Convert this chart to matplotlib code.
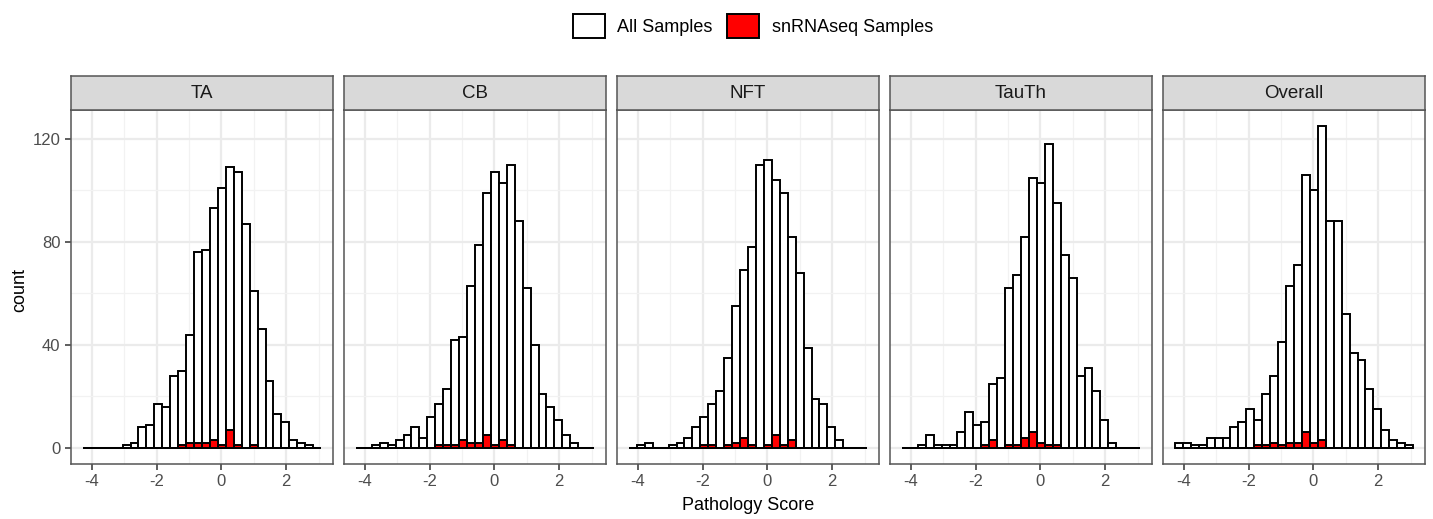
import numpy as np
import matplotlib
matplotlib.use("Agg")
import matplotlib.pyplot as plt
from matplotlib.patches import Patch

plt.rcParams['font.family'] = ['Liberation Sans', 'DejaVu Sans']
plt.rcParams['axes.unicode_minus'] = False

# histogram bins (30 bins shared by all panels)
x_min, x_max = -4.28, 3.08
n_bins = 30

panels = ["TA", "CB", "NFT", "TauTh", "Overall"]

ta_all = [0, 0, 0, 0, 0, 1, 2, 8, 9, 17, 16, 28, 30, 44, 76, 77, 93, 101, 109, 107,
          87, 61, 46, 26, 13, 10, 3, 2, 1, 0]
ta_sn = [0, 0, 0, 0, 0, 0, 0, 0, 0, 0, 0, 0, 1, 2, 2, 2, 3, 1, 7, 1,
         0, 1, 0, 0, 0, 0, 0, 0, 0, 0]

cb_all = [0, 0, 1, 2, 1, 3, 5, 8, 4, 12, 17, 23, 42, 43, 63, 79, 99, 107, 103, 110,
          88, 62, 40, 21, 16, 11, 5, 2, 0, 0]
cb_sn = [0, 0, 0, 0, 0, 0, 0, 0, 0, 0, 1, 1, 1, 3, 2, 2, 5, 1, 3, 1,
         0, 0, 0, 0, 0, 0, 0, 0, 0, 0]

nft_all = [0, 1, 2, 0, 0, 1, 2, 4, 8, 12, 17, 22, 35, 55, 69, 78, 110, 112, 104, 99,
           82, 68, 39, 19, 17, 8, 3, 0, 0, 0]
nft_sn = [0, 0, 0, 0, 0, 0, 0, 0, 0, 1, 1, 0, 1, 2, 4, 1, 0, 1, 5, 1,
          3, 0, 0, 0, 0, 0, 0, 0, 0, 0]

tauth_all = [0, 0, 1, 5, 1, 1, 1, 6, 14, 9, 10, 25, 27, 62, 67, 82, 105, 103, 118, 95,
             75, 66, 28, 31, 22, 11, 2, 0, 0, 0]
tauth_sn = [0, 0, 0, 0, 0, 0, 0, 0, 0, 0, 1, 3, 0, 1, 1, 4, 6, 2, 1, 1,
            0, 0, 0, 0, 0, 0, 0, 0, 0, 0]

overall_all = [2, 2, 1, 1, 4, 4, 4, 8, 10, 15, 11, 21, 28, 41, 63, 71, 106, 100, 125, 88,
               88, 52, 37, 34, 23, 15, 7, 3, 2, 1]
overall_sn = [0, 0, 0, 0, 0, 0, 0, 0, 0, 0, 1, 1, 2, 1, 2, 2, 6, 2, 3, 0,
              0, 0, 0, 0, 0, 0, 0, 0, 0, 0]

all_counts = [ta_all, cb_all, nft_all, tauth_all, overall_all]
sn_counts = [ta_sn, cb_sn, nft_sn, tauth_sn, overall_sn]

edges = np.linspace(x_min, x_max, n_bins + 1)
centers = (edges[:-1] + edges[1:]) / 2
bw = edges[1] - edges[0]

W, H = 1433, 519
fig = plt.figure(figsize=(W / 100, H / 100), dpi=100)

pad = (x_max - x_min) * 0.05
ymax = max(max(c) for c in all_counts)
ylim = (-ymax * 0.05, ymax * 1.05)

lefts = [71, 344, 617, 890, 1163]
pw = 262
p_top, p_bot = 110, 464
s_top = 76

for i, name in enumerate(panels):
    ax = fig.add_axes([lefts[i] / W, 1 - p_bot / H, pw / W, (p_bot - p_top) / H])
    ax.bar(centers, all_counts[i], width=bw, color="white", edgecolor="black",
           linewidth=1.4, zorder=3)
    ax.bar(centers, sn_counts[i], width=bw, color="#FF0000", edgecolor="black",
           linewidth=1.4, zorder=4)
    ax.set_xlim(x_min - pad, x_max + pad)
    ax.set_ylim(*ylim)
    ax.set_xticks([-4, -2, 0, 2])
    ax.set_xticks([-3, -1, 1, 3], minor=True)
    ax.set_yticks([0, 40, 80, 120])
    ax.set_yticks([20, 60, 100], minor=True)
    ax.grid(True, which="major", color="#EBEBEB", linewidth=1.6, zorder=0)
    ax.grid(True, which="minor", color="#F2F2F2", linewidth=0.9, zorder=0)
    ax.set_axisbelow(True)
    for sp in ax.spines.values():
        sp.set_color("#555555")
        sp.set_linewidth(1.1)
    ax.tick_params(axis="both", which="major", length=4.5, width=1.1, color="#333333",
                   labelsize=12, labelcolor="#4D4D4D", pad=3)
    ax.tick_params(axis="both", which="minor", length=0)
    if i > 0:
        ax.tick_params(axis="y", which="major", length=0, labelleft=False)

    sax = fig.add_axes([lefts[i] / W, 1 - p_top / H, pw / W, (p_top - s_top) / H])
    sax.set_facecolor("#D9D9D9")
    sax.set_xticks([])
    sax.set_yticks([])
    for sp in sax.spines.values():
        sp.set_color("#555555")
        sp.set_linewidth(1.1)
    sax.text(0.5, 0.48, name, ha="center", va="center", fontsize=13.5,
             color="#1A1A1A", transform=sax.transAxes)

fig.text(20 / W, 1 - 290 / H, "count", rotation=90, ha="center", va="center",
         fontsize=13, color="black")
fig.text(748 / W, 1 - 506 / H, "Pathology Score", ha="center", va="center",
         fontsize=13, color="black")

handles = [Patch(facecolor="white", edgecolor="black", linewidth=1.4),
           Patch(facecolor="#FF0000", edgecolor="black", linewidth=1.4)]
fig.legend(handles, ["All Samples", "snRNAseq Samples"], loc="center",
           bbox_to_anchor=(753 / W, 1 - 26 / H), ncol=2, frameon=False,
           fontsize=13, handlelength=1.75, handleheight=1.75,
           handletextpad=0.7, columnspacing=0.8)

fig.savefig("out.png", dpi=100, facecolor="white")
